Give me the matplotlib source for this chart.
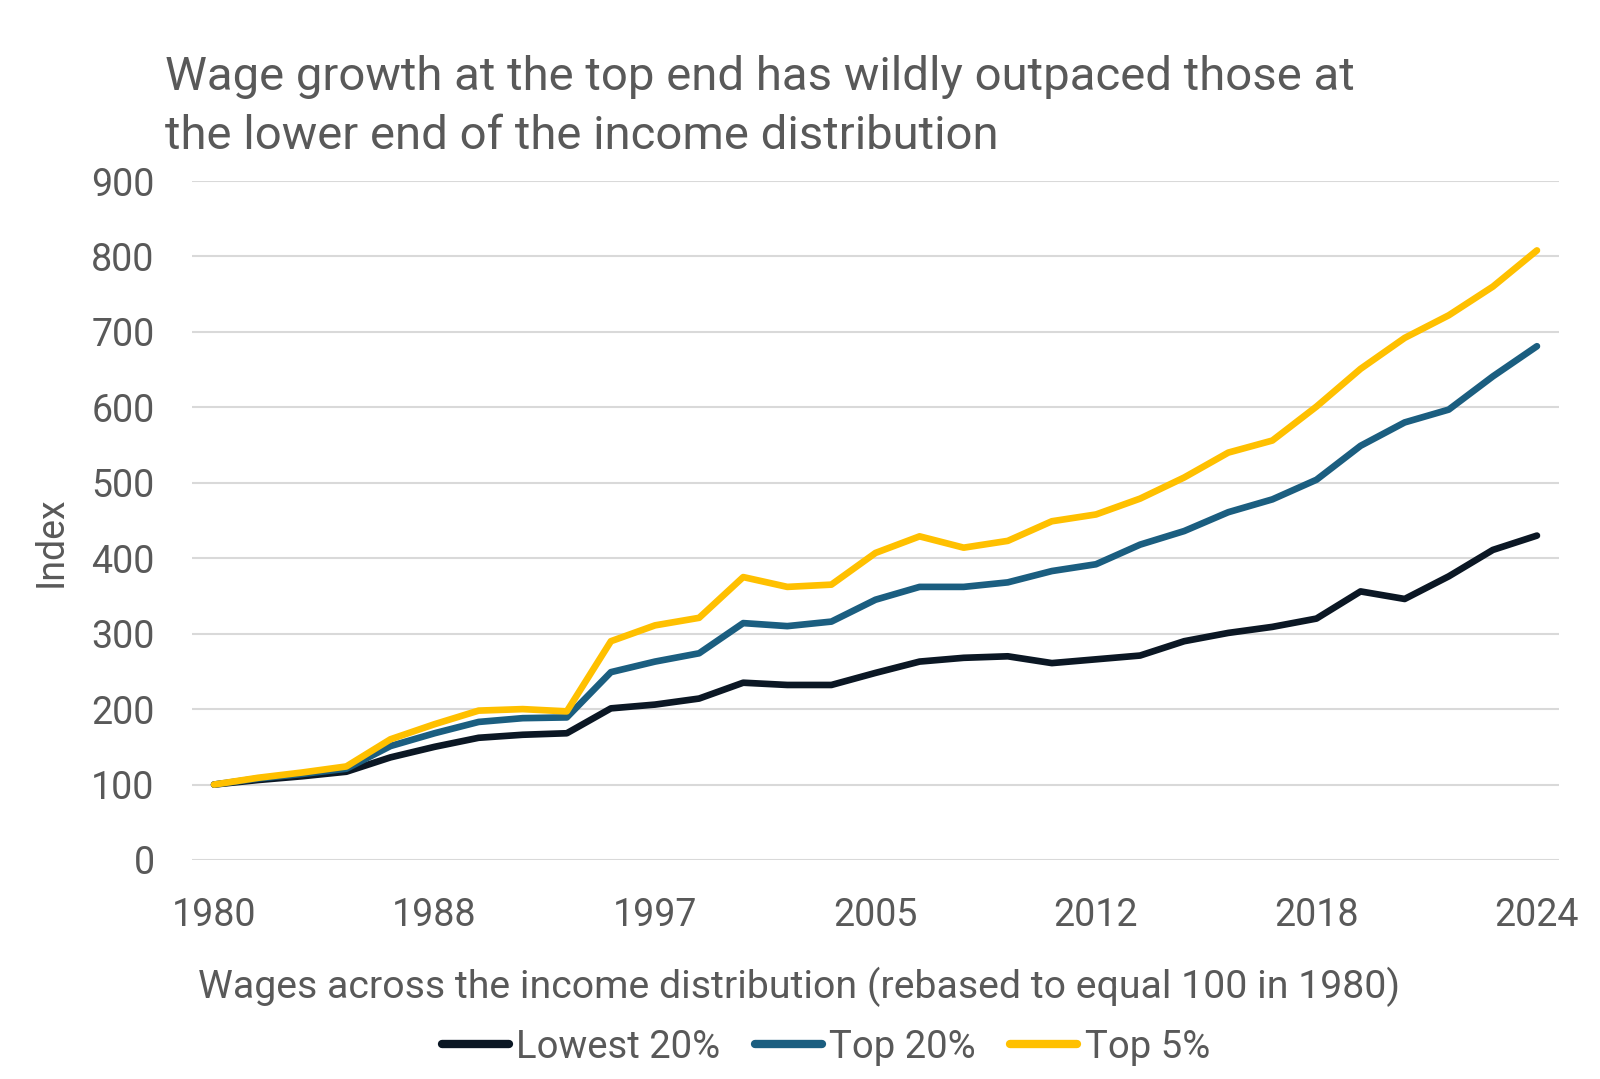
import numpy as np
import matplotlib.pyplot as plt
from matplotlib.lines import Line2D

plt.rcParams['font.family'] = ['Roboto', 'DejaVu Sans']

# index values, 31 points, rebased to 100 in 1980
lowest20 = [100, 106, 111, 117, 136, 150, 162, 166, 168, 201, 206, 214, 235, 232, 232, 248,
            263, 268, 270, 261, 266, 271, 290, 301, 309, 320, 356, 346, 376, 411, 430]
top20 = [100, 108, 114, 121, 151, 168, 183, 188, 189, 249, 263, 274, 314, 310, 316, 345,
         362, 362, 368, 383, 392, 418, 436, 461, 478, 504, 549, 580, 597, 641, 681]
top5 = [100, 109, 116, 124, 160, 180, 198, 200, 197, 290, 311, 321, 375, 362, 365, 407,
        429, 414, 423, 449, 458, 479, 507, 540, 556, 601, 651, 692, 722, 760, 808]

tick_labels = ['1980', '1988', '1997', '2005', '2012', '2018', '2024']
series_names = ['Lowest 20%', 'Top 20%', 'Top 5%']
colors = ['#0B1724', '#1B5E80', '#FFC000']

grey = '#595959'

fig = plt.figure(figsize=(16, 10.79), dpi=100)
ax = fig.add_axes([192/1600, 1 - 860/1079, (1559 - 192)/1600, (860 - 181)/1079])

x = np.arange(len(lowest20))
for vals, c in zip([lowest20, top20, top5], colors):
    ax.plot(x, vals, color=c, lw=4.8, solid_capstyle='round', solid_joinstyle='round')

ax.set_xlim(-0.5, len(x) - 0.5)
ax.set_ylim(0, 900)
ax.set_yticks(np.arange(0, 901, 100))
ax.set_xticks(x[::5])
ax.set_xticklabels(tick_labels)
ax.tick_params(axis='both', length=0, labelsize=27, colors=grey)
ax.tick_params(axis='y', pad=27)
ax.tick_params(axis='x', pad=27)
ax.grid(axis='y', color='#D9D9D9', lw=1.5)
ax.set_axisbelow(True)
for s in ax.spines.values():
    s.set_visible(False)

# title
fig.text(165/1600, 1 - 90/1079, 'Wage growth at the top end has wildly outpaced those at',
         fontsize=34, color=grey, va='baseline', ha='left')
fig.text(165/1600, 1 - 149/1079, 'the lower end of the income distribution',
         fontsize=34, color=grey, va='baseline', ha='left')

fig.text(51/1600, 1 - 542/1079, 'Index', rotation=90, fontsize=27, color=grey,
         ha='center', va='center')
fig.text(799/1600, 1 - 998/1079,
         'Wages across the income distribution (rebased to equal 100 in 1980)',
         fontsize=28.3, color=grey, ha='center', va='baseline')

handles = [Line2D([], [], color=c, lw=6, solid_capstyle='round') for c in colors]
leg = fig.legend(handles, series_names, loc='center', bbox_to_anchor=(826/1600, 1 - 1047/1079),
                 ncol=3, frameon=False, fontsize=27.5, handlelength=1.75, handletextpad=0.2,
                 columnspacing=0.9, labelcolor=grey)

fig.savefig('out.png', dpi=100)
